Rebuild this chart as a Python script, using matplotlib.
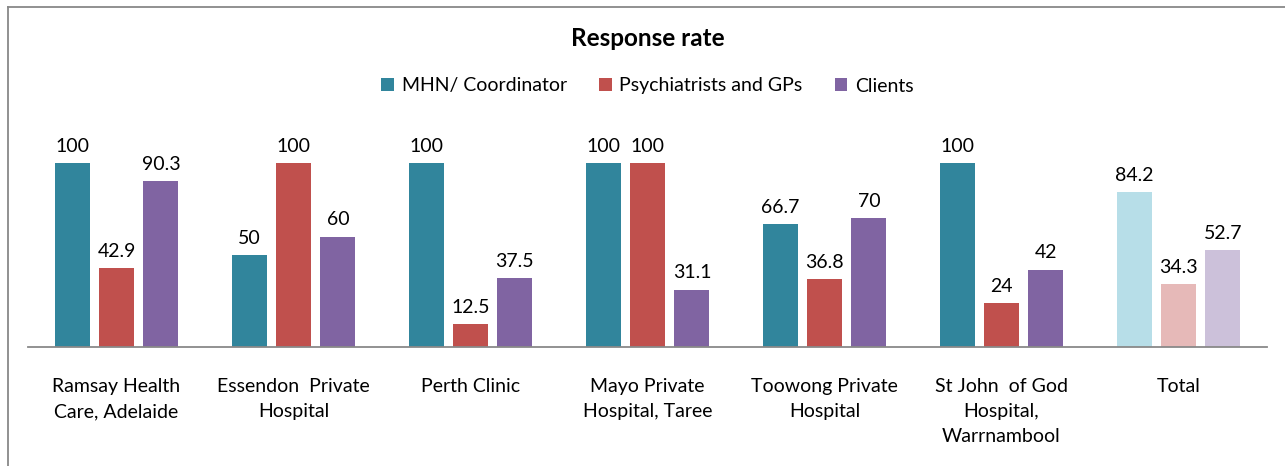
import matplotlib
matplotlib.use("Agg")
import matplotlib.pyplot as plt
import numpy as np
from matplotlib.lines import Line2D
from matplotlib.patches import Patch

categories = ["Ramsay Health\nCare, Adelaide", "Essendon  Private\nHospital", "Perth Clinic",
              "Mayo Private\nHospital, Taree", "Toowong Private\nHospital",
              "St John  of God\nHospital,\nWarrnambool", "Total"]
series_names = ["MHN/ Coordinator", "Psychiatrists and GPs", "Clients"]
mhn = [100, 50, 100, 100, 66.7, 100, 84.2]
psych = [42.9, 100, 12.5, 100, 36.8, 24, 34.3]
clients = [90.3, 60, 37.5, 31.1, 70, 42, 52.7]
labels_mhn = ["100", "50", "100", "100", "66.7", "100", "84.2"]
labels_psych = ["42.9", "100", "12.5", "100", "36.8", "24", "34.3"]
labels_clients = ["90.3", "60", "37.5", "31.1", "70", "42", "52.7"]

main_colors = ["#31859C", "#C0504D", "#8064A2"]
total_colors = ["#B7DEE8", "#E6B9B8", "#CCC1DA"]

plt.rcParams['font.family'] = ['Lato', 'DejaVu Sans']

W, H = 1285, 466
fig = plt.figure(figsize=(W / 100, H / 100), dpi=100)
ax = fig.add_axes([28 / W, (H - 347) / H, 1239 / W, 220.8 / H])

x = np.arange(len(categories))
bw = 0.198
pitch = 0.251
all_vals = [mhn, psych, clients]
all_labels = [labels_mhn, labels_psych, labels_clients]
for i, (vals, labs) in enumerate(zip(all_vals, all_labels)):
    cols = [main_colors[i]] * (len(categories) - 1) + [total_colors[i]]
    xs = x + (i - 1) * pitch
    ax.bar(xs, vals, width=bw, color=cols, zorder=2)
    for xx, v, lab in zip(xs, vals, labs):
        ax.annotate(lab, (xx, v), xytext=(0, 6), textcoords="offset points",
                    ha="center", va="bottom", fontsize=14, color="#000000")

ax.set_xlim(-0.5, len(categories) - 0.5)
ax.set_ylim(0, 120)
ax.set_xticks(x)
ax.set_xticklabels(categories, fontsize=14, linespacing=1.6, va="top")
ax.tick_params(axis="x", length=0, pad=22)
ax.set_yticks([])
for s in ["top", "right", "left"]:
    ax.spines[s].set_visible(False)
ax.spines["bottom"].set_color("#898989")
ax.spines["bottom"].set_linewidth(1.3)

fig.text(0.5 + 5 / W, 1 - 38 / H, "Response rate", ha="center", va="center",
         fontsize=17.5, fontweight="bold")

handles = [Patch(facecolor=c, edgecolor="none") for c in main_colors]
fig.legend(handles, series_names, loc="center", bbox_to_anchor=(0.5 + 5 / W, 1 - 86 / H),
           ncol=3, frameon=False, fontsize=14, handlelength=0.65, handleheight=0.65,
           handletextpad=0.4, columnspacing=1.65)

# outer border
fig.add_artist(Line2D([8 / W, 8 / W], [0, 1 - 7 / H], color="#888888", lw=1.3,
                      transform=fig.transFigure))
fig.add_artist(Line2D([8 / W, 1], [1 - 7 / H, 1 - 7 / H], color="#888888", lw=1.3,
                      transform=fig.transFigure))

fig.savefig("out.png", dpi=100)
